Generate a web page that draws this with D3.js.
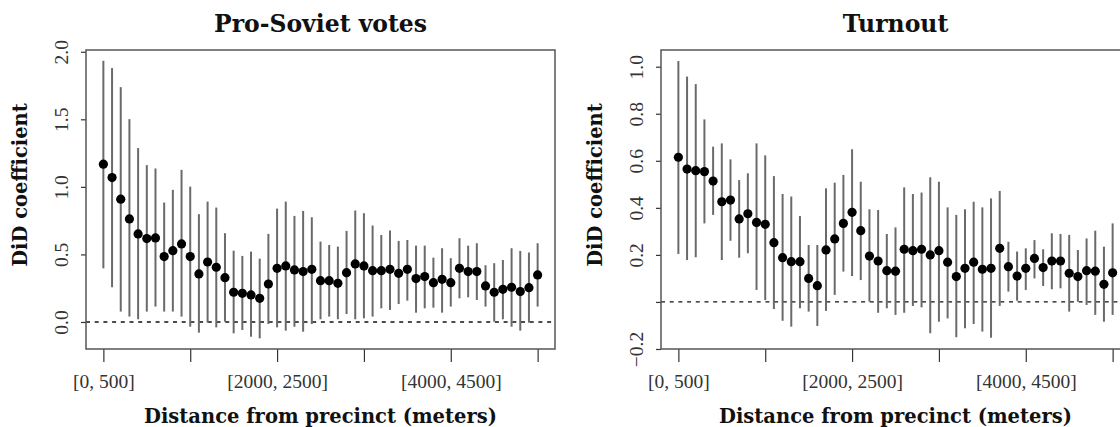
<!DOCTYPE html>
<html>
<head>
<meta charset="utf-8">
<script src="https://cdn.jsdelivr.net/npm/d3@7"></script>
<style>
  body { margin: 0; background: #fff; }
  svg { display: block; }
</style>
</head>
<body>
<div id="chart"></div>
<script>
// bin index 1..51 (500 m windows moving by 100 m)
var tick_pos    = [1, 11, 21, 31, 41, 51];
var tick_labels = ["[0, 500]", "", "[2000, 2500]", "", "[4000, 4500]", ""];

// Pro-Soviet votes: point estimate, lower / upper CI
var sov_est = [1.168, 1.069, 0.909, 0.763, 0.652, 0.617, 0.622, 0.484, 0.528, 0.578,
               0.484, 0.356, 0.444, 0.405, 0.328, 0.220, 0.212, 0.200, 0.175, 0.281,
               0.397, 0.415, 0.385, 0.373, 0.390, 0.306, 0.306, 0.286, 0.365, 0.430,
               0.415, 0.380, 0.380, 0.390, 0.360, 0.390, 0.321, 0.336, 0.291, 0.316,
               0.291, 0.397, 0.373, 0.373, 0.267, 0.220, 0.242, 0.257, 0.225, 0.254,
               0.348];
var sov_lo  = [0.397, 0.257, 0.077, 0.040, 0.020, 0.077, 0.114, 0.077, 0.077, 0.040,
               -0.035, -0.079, -0.005, -0.040, 0.002, -0.084, -0.059, -0.109, -0.121, -0.015,
               -0.040, -0.064, -0.035, -0.072, -0.015, 0.020, 0.040, 0.020, 0.059, 0.020,
               0.027, 0.040, 0.101, 0.089, 0.133, 0.158, 0.069, 0.101, 0.106, 0.069,
               0.114, 0.175, 0.183, 0.163, 0.114, 0.002, 0.020, -0.035, -0.064, -0.005,
               0.114];
var sov_hi  = [1.933, 1.879, 1.738, 1.501, 1.287, 1.161, 1.136, 0.884, 0.978, 1.126,
               1.002, 0.798, 0.891, 0.847, 0.657, 0.528, 0.489, 0.521, 0.469, 0.652,
               0.839, 0.891, 0.785, 0.822, 0.775, 0.595, 0.570, 0.558, 0.674, 0.825,
               0.805, 0.714, 0.644, 0.677, 0.600, 0.607, 0.565, 0.565, 0.476, 0.546,
               0.472, 0.620, 0.565, 0.583, 0.420, 0.435, 0.459, 0.546, 0.526, 0.514,
               0.583];

// Turnout
var turn_est = [0.615, 0.565, 0.558, 0.554, 0.514, 0.426, 0.433, 0.353, 0.375, 0.338,
                0.330, 0.252, 0.188, 0.171, 0.171, 0.100, 0.069, 0.221, 0.268, 0.334,
                0.381, 0.303, 0.195, 0.174, 0.133, 0.131, 0.224, 0.218, 0.224, 0.200,
                0.218, 0.169, 0.108, 0.143, 0.169, 0.139, 0.143, 0.228, 0.150, 0.110,
                0.143, 0.185, 0.146, 0.174, 0.174, 0.122, 0.108, 0.133, 0.131, 0.075,
                0.124];
var turn_lo  = [0.204, 0.178, 0.190, 0.334, 0.370, 0.178, 0.260, 0.188, 0.207, 0.051,
                0.008, -0.030, -0.080, -0.105, -0.027, -0.041, -0.102, -0.038, 0.030, 0.129,
                0.110, 0.093, 0.001, -0.046, -0.027, -0.055, -0.046, -0.017, -0.023, -0.133,
                -0.084, -0.070, -0.150, -0.112, -0.094, -0.126, -0.152, -0.017, 0.044, 0.005,
                0.051, 0.100, 0.068, 0.054, 0.058, -0.041, 0.001, -0.013, -0.055, -0.084,
                -0.055];
var turn_hi  = [1.024, 0.958, 0.926, 0.776, 0.660, 0.674, 0.606, 0.518, 0.547, 0.674,
                0.623, 0.535, 0.459, 0.448, 0.365, 0.242, 0.242, 0.483, 0.507, 0.540,
                0.649, 0.511, 0.394, 0.391, 0.289, 0.317, 0.487, 0.459, 0.465, 0.530,
                0.511, 0.402, 0.370, 0.394, 0.426, 0.402, 0.440, 0.472, 0.256, 0.214,
                0.228, 0.263, 0.224, 0.292, 0.289, 0.285, 0.221, 0.270, 0.303, 0.235,
                0.334];

var sov_yticks  = [0, 0.5, 1, 1.5, 2];
var turn_yticks = [-0.2, 0, 0.2, 0.4, 0.6, 0.8, 1.0];

var serif = "'Liberation Serif', 'DejaVu Serif', serif";
var serif_bold = "'DejaVu Serif', 'Liberation Serif', serif";

var svg = d3.select("#chart").append("svg")
  .attr("width", 1120)
  .attr("height", 427);

function draw_panel(left, title, est, lo, hi, ydomain, yticks, ylabel_fmt)
{
  var top = 50, bottom = 349, width = 469;
  var right = left + width;

  var n = est.length;
  var pts = d3.range(n).map(function(i) {
    return {i: i + 1, est: est[i], lo: lo[i], hi: hi[i]};
  });

  var x = d3.scaleLinear().domain([-1, 53]).range([left, right]);
  var y = d3.scaleLinear().domain(ydomain).range([bottom, top]);

  var g = svg.append("g");

  // y axis (ticks only, box drawn below)
  var y_axis = d3.axisLeft(y)
    .tickValues(yticks)
    .tickSize(5)
    .tickFormat(ylabel_fmt);

  g.append("g")
    .attr("transform", "translate(" + left + ",0)")
    .call(y_axis)
    .call(function(a) { a.select(".domain").remove(); })
    .call(function(a) { a.selectAll(".tick line").attr("stroke", "#333").attr("stroke-width", 1.2); })
    .call(function(a) {
      a.selectAll(".tick text")
        .attr("x", 0)
        .attr("y", -25)
        .attr("dy", null)
        .attr("dominant-baseline", "central")
        .attr("text-anchor", "middle")
        .attr("transform", "rotate(-90)")
        .attr("fill", "#333")
        .attr("font-family", serif)
        .attr("font-size", "19.5px");
    });

  // x axis
  var x_axis = d3.axisBottom(x)
    .tickValues(tick_pos)
    .tickSize(13)
    .tickFormat(function(d, i) { return tick_labels[i]; });

  g.append("g")
    .attr("transform", "translate(0," + bottom + ")")
    .call(x_axis)
    .call(function(a) { a.select(".domain").remove(); })
    .call(function(a) { a.selectAll(".tick line").attr("stroke", "#333").attr("stroke-width", 1.2); })
    .call(function(a) {
      a.selectAll(".tick text")
        .attr("y", 39)
        .attr("dy", null)
        .attr("fill", "#333")
        .attr("font-family", serif)
        .attr("font-size", "19.5px");
    });

  // zero line
  g.append("line")
    .attr("x1", left)
    .attr("x2", right)
    .attr("y1", y(0))
    .attr("y2", y(0))
    .attr("stroke", "#111")
    .attr("stroke-width", 1.3)
    .attr("stroke-dasharray", "4,4.7");

  // confidence intervals
  g.selectAll("line.ci")
    .data(pts)
    .join("line")
    .attr("class", "ci")
    .attr("x1", function(d) { return x(d.i); })
    .attr("x2", function(d) { return x(d.i); })
    .attr("y1", function(d) { return y(d.lo); })
    .attr("y2", function(d) { return y(d.hi); })
    .attr("stroke", "#6a6a6a")
    .attr("stroke-width", 2);

  // point estimates
  g.selectAll("circle.est")
    .data(pts)
    .join("circle")
    .attr("class", "est")
    .attr("cx", function(d) { return x(d.i); })
    .attr("cy", function(d) { return y(d.est); })
    .attr("r", 4.6)
    .attr("fill", "#000");

  // box
  g.append("rect")
    .attr("x", left)
    .attr("y", top)
    .attr("width", width)
    .attr("height", bottom - top)
    .attr("fill", "none")
    .attr("stroke", "#555")
    .attr("stroke-width", 1.5);

  // titles
  g.append("text")
    .attr("x", left + width / 2)
    .attr("y", 32)
    .attr("text-anchor", "middle")
    .attr("font-family", serif_bold)
    .attr("font-weight", "bold")
    .attr("font-size", "23.5px")
    .attr("fill", "#111")
    .text(title);

  g.append("text")
    .attr("x", left + width / 2)
    .attr("y", 423)
    .attr("text-anchor", "middle")
    .attr("font-family", serif_bold)
    .attr("font-weight", "bold")
    .attr("font-size", "19.5px")
    .attr("fill", "#111")
    .text("Distance from precinct (meters)");

  g.append("text")
    .attr("transform", "translate(" + (left - 66) + ",185) rotate(-90)")
    .attr("text-anchor", "middle")
    .attr("dominant-baseline", "central")
    .attr("font-family", serif_bold)
    .attr("font-weight", "bold")
    .attr("font-size", "19.5px")
    .attr("fill", "#111")
    .text("DiD coefficient");
}

draw_panel(86, "Pro-Soviet votes", sov_est, sov_lo, sov_hi, [-0.2, 2.013], sov_yticks,
  function(d) { return d3.format(".1f")(d); });

draw_panel(661, "Turnout", turn_est, turn_lo, turn_hi, [-0.2, 1.071], turn_yticks,
  function(d) { return d === 0 ? "" : d3.format(".1f")(d); });
</script>
</body>
</html>
